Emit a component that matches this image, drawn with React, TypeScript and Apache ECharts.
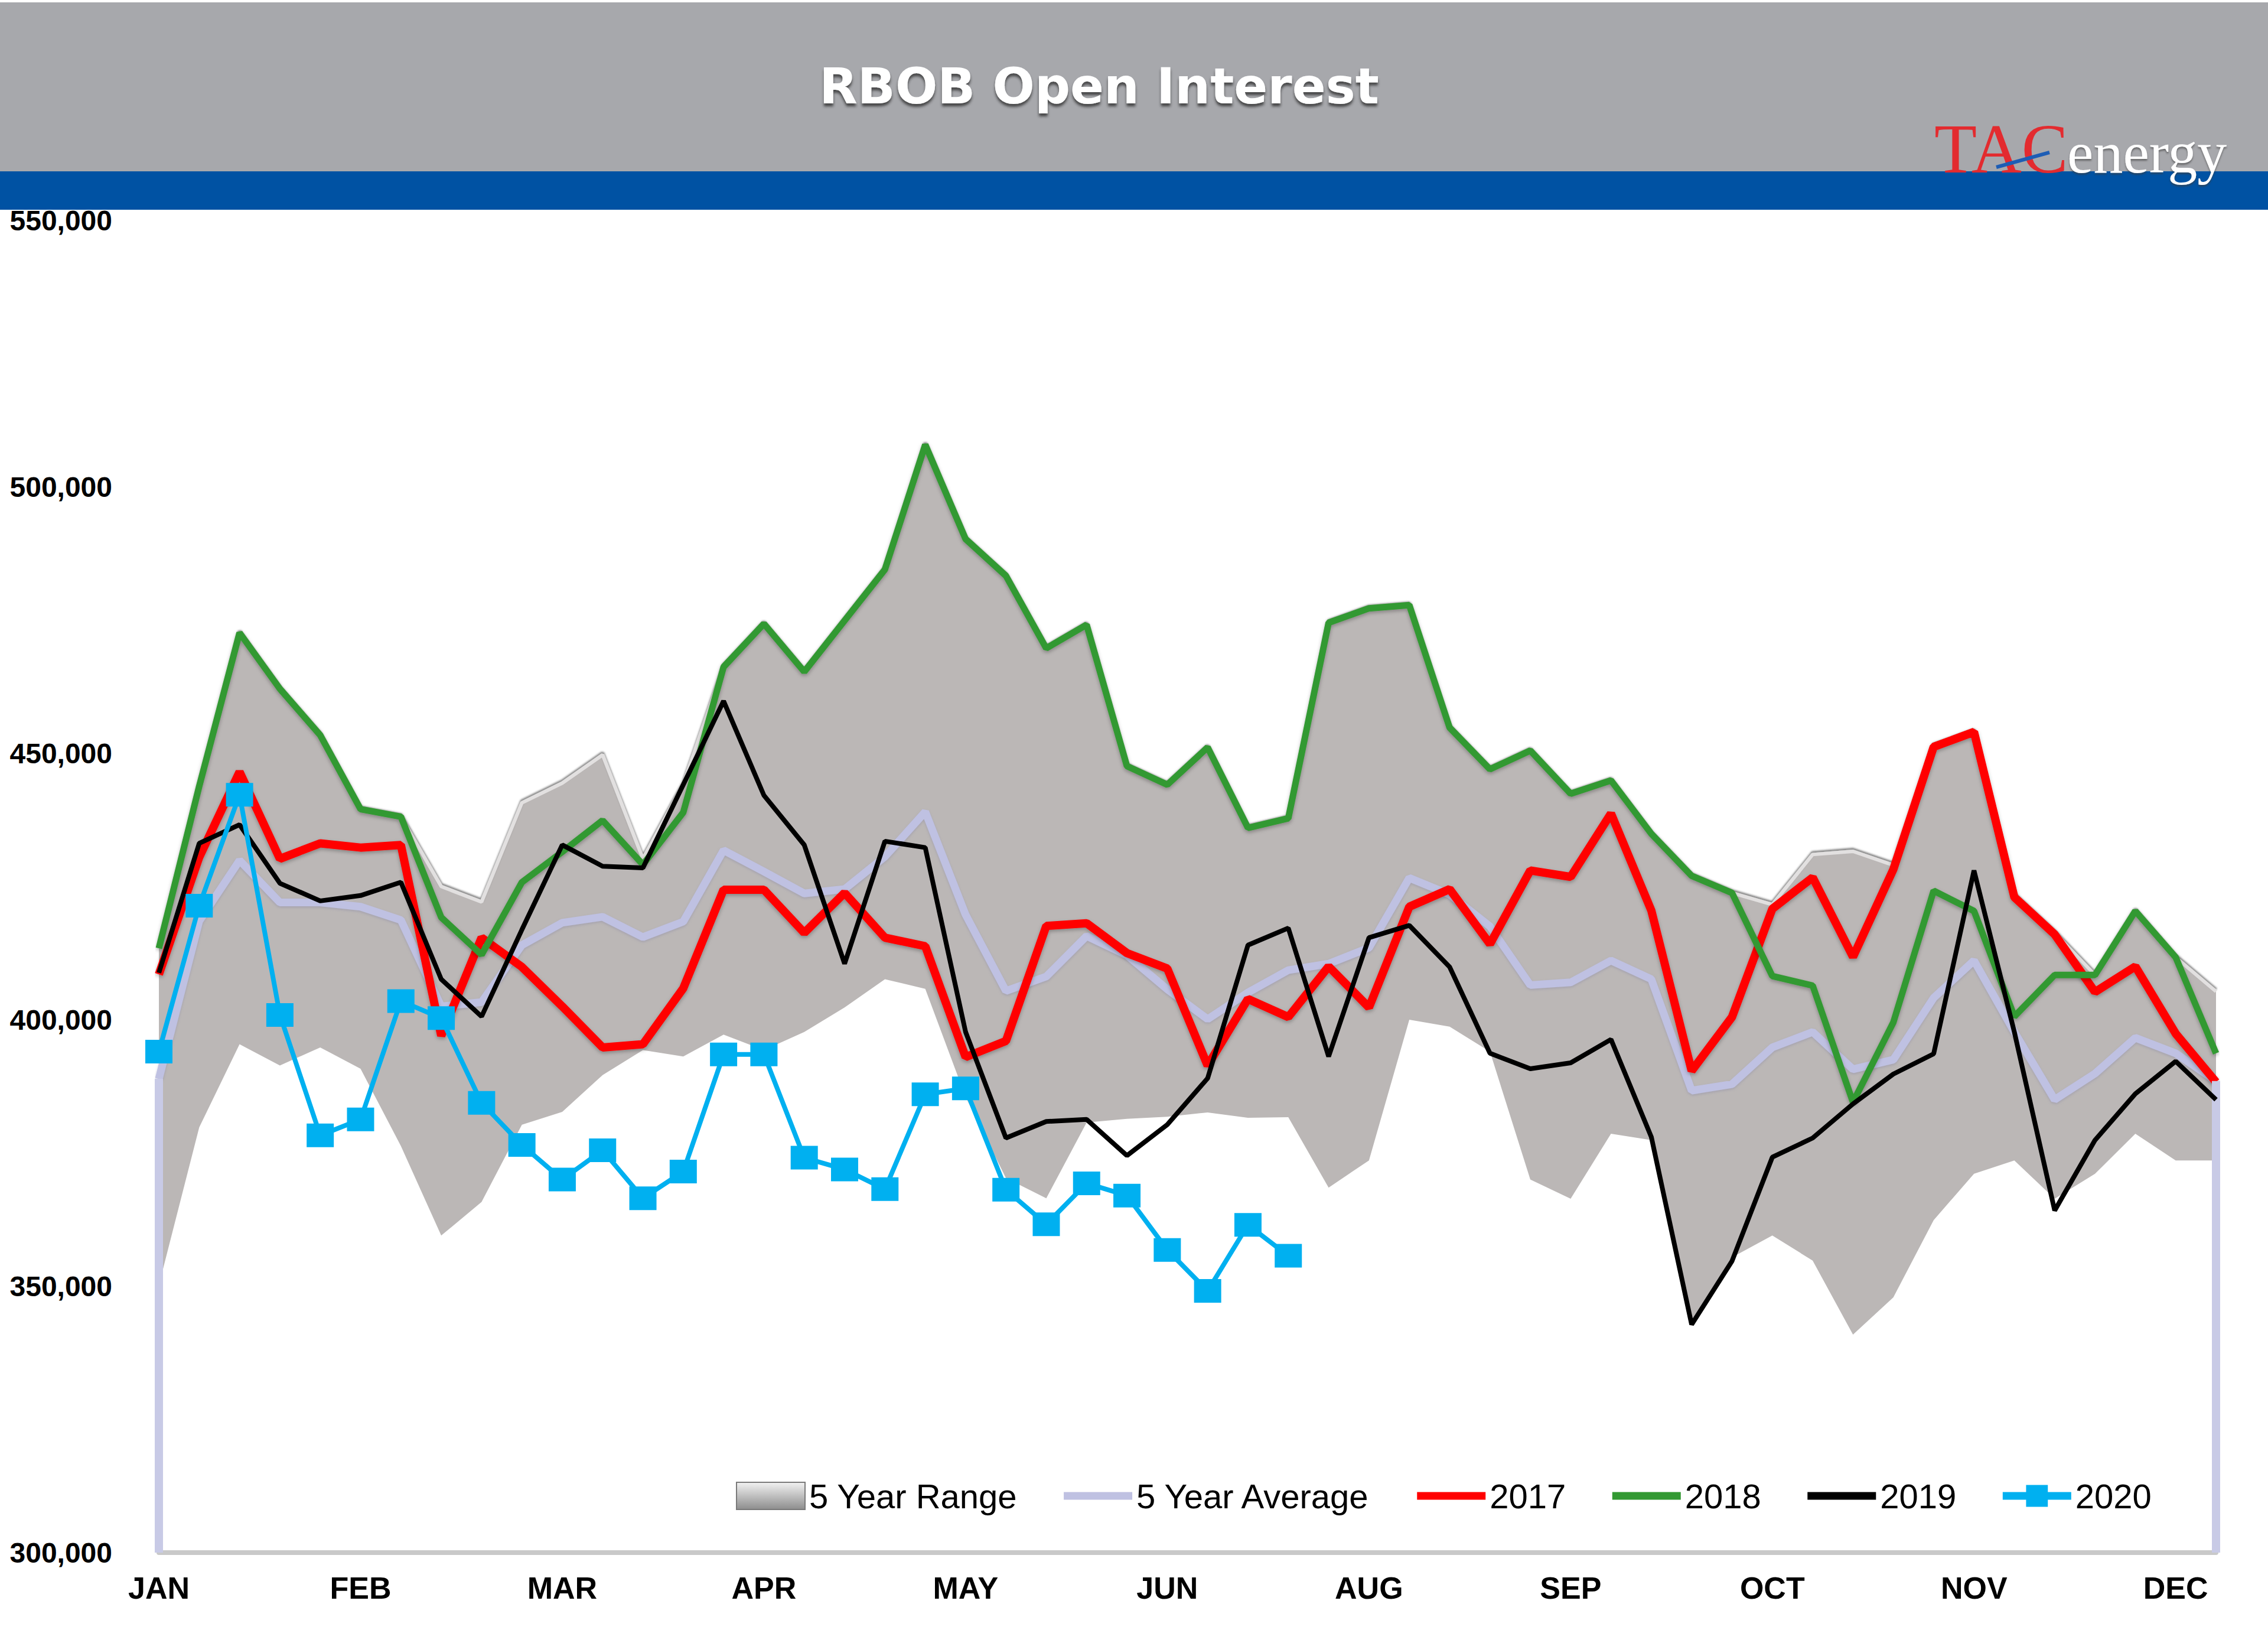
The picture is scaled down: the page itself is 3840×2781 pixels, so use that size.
import React, { useEffect, useRef } from 'react';
import * as echarts from 'echarts';

// ---------- DATA ----------
const WEEKS: string[] = Array.from({ length: 52 }, (_, i) => `W${i + 1}`);
const MONTH_TICKS = ['JAN', 'FEB', 'MAR', 'APR', 'MAY', 'JUN', 'AUG', 'SEP', 'OCT', 'NOV', 'DEC'];

const RANGE_LOW = [
  350200, 379800, 395400, 391400, 394800, 390800, 376300, 359500, 365800, 380300,
  382700, 389600, 394300, 393100, 397200, 394300, 397700, 402300, 407600, 405800,
  385500, 370300, 366500, 380700, 381400, 381800, 382600, 381600, 381700, 368500,
  373600, 400000, 398700, 394000, 370000, 366400, 378600, 377400, 343200, 355400,
  359500, 354800, 340900, 347900, 362400, 371100, 373600, 366400, 371100, 378600,
  373600, 373600,
];
const RANGE_HIGH = [
  413400, 443800, 472600, 462100, 453400, 439500, 438100, 425000, 422100, 440700,
  444400, 449700, 430200, 444100, 466200, 474300, 465300, 474900, 484500, 507900,
  490200, 483300, 469700, 474100, 447600, 444100, 451100, 436000, 437800, 474500,
  477200, 477800, 454800, 447000, 450500, 442400, 444900, 434900, 427000, 423800,
  421600, 431000, 431600, 429000, 451300, 454000, 423300, 416300, 408400, 420400,
  411700, 405300,
];
const AVG_5Y = [
  388900, 418500, 429900, 422000, 422000, 421200, 418700, 402500, 403300, 414000,
  418200, 419300, 415500, 418400, 431800, 427800, 423700, 424500, 430600, 439000,
  419700, 405400, 408100, 415700, 412100, 405700, 400100, 405100, 409300, 410500,
  413500, 426600, 423500, 417500, 406500, 407000, 411100, 407600, 386700, 387900,
  394800, 397700, 390700, 392500, 404100, 411100, 397700, 385000, 389900, 396600,
  393700, 388500,
];
const Y2017 = [
  408500, 430500, 446500, 430200, 433100, 432300, 432800, 397000, 415400, 409900,
  402500, 394800, 395400, 405900, 424400, 424400, 416300, 423800, 415400, 413800,
  393000, 396000, 417600, 418100, 412500, 409600, 391400, 403900, 400500, 410000,
  402300, 421200, 424500, 414200, 428000, 426800, 438700, 420500, 390400, 400500,
  420800, 426700, 411800, 428200, 451200, 454000, 423000, 416000, 405200, 410000,
  397400, 388300,
];
const Y2018 = [
  413400, 443800, 472600, 462100, 453400, 439500, 438100, 419200, 412200, 425800,
  431500, 437400, 429100, 438900, 466200, 474300, 465300, 474900, 484500, 507900,
  490200, 483300, 469700, 474100, 447600, 444100, 451100, 436000, 437800, 474500,
  477200, 477800, 454800, 447000, 450500, 442400, 444900, 434900, 427000, 423800,
  408200, 406400, 384500, 399500, 424200, 420400, 400600, 408400, 408400, 420400,
  411700, 393700,
];
const Y2019 = [
  408800, 433100, 436600, 425600, 422300, 423300, 425800, 407600, 400600, 416900,
  432800, 428800, 428500, 444100, 459800, 442100, 432800, 410500, 433500, 432300,
  397700, 377800, 380900, 381300, 374500, 380300, 389000, 414000, 417200, 393100,
  415400, 417700, 409900, 393700, 390800, 391900, 396300, 378000, 342800, 354700,
  374200, 377800, 384200, 389800, 393600, 428000, 397700, 364200, 377400, 386100,
  392200, 385000,
];
const Y2020 = [
  394000, 421400, 442200, 400900, 378300, 381300, 403500, 400300, 384400, 376500,
  370000, 375500, 366500, 371500, 393500, 393500, 374100, 371900, 368200, 386000,
  387100, 368100, 361600, 369300, 367000, 356800, 349100, 361500, 355700,
];

// ---------- STYLE ----------
const C_RANGE = '#bbb7b6';
const C_AVG = '#bfc1e2';
const C_2017 = '#ff0000';
const C_2018 = '#339933';
const C_2019 = '#000000';
const C_2020 = '#00b0f0';
const SANS = '"Liberation Sans", Arial, sans-serif';

const fmtThousands = (v: number) => String(v).replace(/\B(?=(\d{3})+(?!\d))/g, ',');

export default function App() {
  const ref = useRef<HTMLDivElement>(null);

  useEffect(() => {
    document.body.style.margin = '0';
    const chart = echarts.init(ref.current!, null, { renderer: 'svg' });
    const rangeSpan = RANGE_HIGH.map((h, i) => h - RANGE_LOW[i]);
    const lineShadow = { shadowColor: 'rgba(0,0,0,0.28)', shadowBlur: 6, shadowOffsetY: 3 };
    const noSymbol = { itemStyle: { opacity: 0 } };

    chart.setOption({
      animation: false,
      backgroundColor: '#ffffff',
      grid: { left: 269, right: 88, top: 373, bottom: 153, containLabel: false },
      graphic: [
        { type: 'rect', z: 100, shape: { x: 0, y: 4, width: 3840, height: 286 }, style: { fill: '#a7a8ac' } },
        { type: 'rect', z: 100, shape: { x: 0, y: 290, width: 3840, height: 65 }, style: { fill: '#0052a3' } },
        {
          type: 'text', z: 101, x: 1861, y: 146,
          style: {
            text: 'RBOB Open Interest', fill: '#ffffff', font: 'bold 84px "DejaVu Sans", sans-serif',
            align: 'center', verticalAlign: 'middle',
            textShadowColor: 'rgba(40,40,40,0.75)', textShadowBlur: 4, textShadowOffsetY: 5,
          },
        },
        {
          type: 'text', z: 101, x: 3275, y: 252,
          style: {
            text: 'TAC', fill: '#e32b2f', font: '118px "Liberation Serif", "DejaVu Serif", serif',
            align: 'left', verticalAlign: 'middle',
          },
        },
        {
          type: 'text', z: 101, x: 3500, y: 258,
          style: {
            text: 'energy', fill: '#ffffff', font: '100px "Liberation Serif", "DejaVu Serif", serif',
            align: 'left', verticalAlign: 'middle',
            textShadowColor: 'rgba(60,60,60,0.6)', textShadowBlur: 3, textShadowOffsetY: 3,
          },
        },
        {
          type: 'line', z: 102, shape: { x1: 3380, y1: 283, x2: 3470, y2: 258 },
          style: { stroke: '#1d5db5', lineWidth: 6 },
        },
      ],
      legend: {
        left: 1241, top: 2498,
        itemWidth: 116, itemHeight: 46, itemGap: 72,
        selectedMode: false,
        textStyle: { fontSize: 58, fontFamily: SANS, color: '#000000', padding: [0, 0, 0, 2] },
        lineStyle: { width: 13 },
        data: [
          {
            name: '5 Year Range', icon: 'rect',
            itemStyle: {
              color: {
                type: 'linear', x: 0, y: 0, x2: 0, y2: 1,
                colorStops: [{ offset: 0, color: '#f2f2f2' }, { offset: 1, color: '#8d8d8d' }],
              },
              borderColor: '#7a7a7a', borderWidth: 2,
            },
          },
          { name: '5 Year Average', ...noSymbol },
          { name: '2017', ...noSymbol },
          { name: '2018', ...noSymbol },
          { name: '2019', ...noSymbol },
          { name: '2020' },
        ],
      },
      xAxis: {
        type: 'category', data: WEEKS, boundaryGap: false,
        axisTick: { show: false },
        splitLine: { show: false },
        axisLine: { lineStyle: { color: '#c9c9c9', width: 8 } },
        axisLabel: {
          interval: 4,
          formatter: (_v: string, idx: number) => MONTH_TICKS[idx / 5] ?? '',
          fontSize: 52, fontWeight: 'bold', fontFamily: SANS, color: '#000000', margin: 34,
        },
      },
      yAxis: {
        type: 'value', min: 300000, max: 550000, interval: 50000,
        axisLine: { show: false }, axisTick: { show: false }, splitLine: { show: false },
        axisLabel: {
          formatter: (v: number) => fmtThousands(v),
          fontSize: 48, fontWeight: 'bold', fontFamily: SANS, color: '#000000',
          align: 'right', margin: 79,
        },
      },
      series: [
        {
          name: 'rangeBase', type: 'line', data: RANGE_LOW, stack: 'range',
          symbol: 'none', silent: true, lineStyle: { width: 0, opacity: 0 }, z: 1,
        },
        {
          name: '5 Year Range', type: 'line', data: rangeSpan, stack: 'range',
          symbol: 'none', silent: true, z: 1,
          itemStyle: { color: C_RANGE },
          areaStyle: { color: C_RANGE, opacity: 1 },
          lineStyle: {
            color: '#e2e0e0', width: 6,
            shadowColor: 'rgba(70,70,70,0.65)', shadowBlur: 3, shadowOffsetY: -3,
          },
        },
        {
          name: '5 Year Average', type: 'line', data: AVG_5Y, symbol: 'none', silent: true, z: 2,
          itemStyle: { color: C_AVG },
          lineStyle: { color: C_AVG, width: 13, shadowColor: 'rgba(120,120,160,0.35)', shadowBlur: 4, shadowOffsetY: 2 },
          markLine: {
            silent: true, symbol: ['none', 'none'], label: { show: false },
            lineStyle: { color: '#c8cae6', width: 14, type: 'solid' },
            data: [
              [{ coord: [WEEKS[0], AVG_5Y[0]] }, { coord: [WEEKS[0], 300000] }],
              [{ coord: [WEEKS[51], AVG_5Y[51]] }, { coord: [WEEKS[51], 300000] }],
            ],
          },
        },
        {
          name: '2017', type: 'line', data: Y2017, symbol: 'none', silent: true, z: 3,
          itemStyle: { color: C_2017 },
          lineStyle: { color: C_2017, width: 14, ...lineShadow },
        },
        {
          name: '2018', type: 'line', data: Y2018, symbol: 'none', silent: true, z: 4,
          itemStyle: { color: C_2018 },
          lineStyle: { color: C_2018, width: 11, ...lineShadow },
        },
        {
          name: '2019', type: 'line', data: Y2019, symbol: 'none', silent: true, z: 5,
          itemStyle: { color: C_2019 },
          lineStyle: { color: C_2019, width: 8 },
        },
        {
          name: '2020', type: 'line', data: Y2020, symbol: 'rect', symbolSize: [46, 40],
          showSymbol: true, silent: true, z: 6,
          itemStyle: { color: C_2020 },
          lineStyle: { color: C_2020, width: 8 },
        },
      ],
    });
    return () => chart.dispose();
  }, []);

  return <div ref={ref} style={{ width: 3840, height: 2781 }} />;
}
